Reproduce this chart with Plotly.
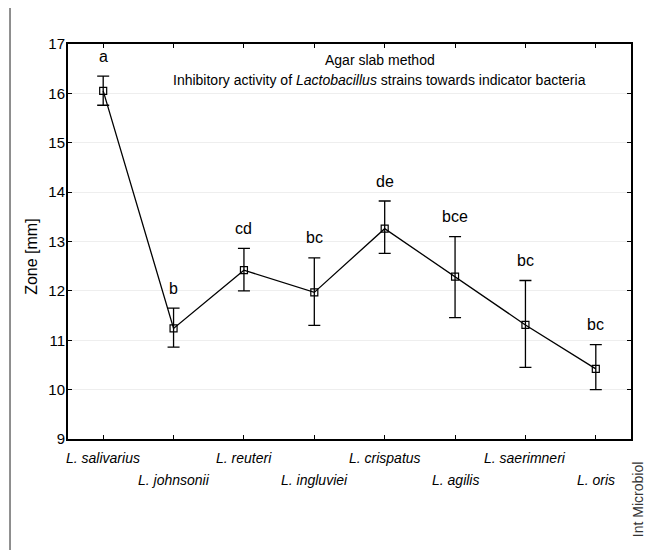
import plotly.graph_objects as go

strains = ["L. salivarius", "L. johnsonii", "L. reuteri", "L. ingluviei",
           "L. crispatus", "L. agilis", "L. saerimneri", "L. oris"]
means = [16.05, 11.24, 12.42, 11.97, 13.26, 12.29, 11.31, 10.42]
upper = [16.35, 11.65, 12.86, 12.67, 13.82, 13.10, 12.21, 10.91]
lower = [15.76, 10.86, 12.00, 11.30, 12.76, 11.46, 10.45, 10.00]
letters = ["a", "b", "cd", "bc", "de", "bce", "bc", "bc"]
yticks = [9, 10, 11, 12, 13, 14, 15, 16, 17]

FONT = "Liberation Sans, Arial, sans-serif"

x_idx = list(range(len(strains)))
err_plus = [u - m for u, m in zip(upper, means)]
err_minus = [m - l for m, l in zip(means, lower)]

fig = go.Figure()
fig.add_trace(go.Scatter(
    x=x_idx, y=means, mode="lines+markers",
    line=dict(color="black", width=1.3),
    marker=dict(symbol="square-open", size=7, color="black", line=dict(width=1.2)),
    error_y=dict(type="data", symmetric=False, array=err_plus, arrayminus=err_minus,
                 color="black", thickness=1.3, width=6),
    showlegend=False, hoverinfo="skip",
))

annotations = []
# significance letters
for i, (u, t) in enumerate(zip(upper, letters)):
    annotations.append(dict(x=i, y=u, xref="x", yref="y", text=t, showarrow=False,
                            yshift=20, font=dict(family=FONT, size=16, color="black")))

# staggered category labels
for i, s in enumerate(strains):
    annotations.append(dict(x=i, y=(-0.048 if i % 2 == 0 else -0.104), xref="x", yref="paper",
                            text="<i>" + s + "</i>", showarrow=False,
                            xanchor="center", yanchor="middle",
                            font=dict(family=FONT, size=14, color="black")))

# title lines
annotations.append(dict(x=0.554, y=0.9595, xref="paper", yref="paper", xanchor="center",
                        yanchor="middle", text="Agar slab method", showarrow=False,
                        font=dict(family=FONT, size=14, color="black")))
annotations.append(dict(x=0.554, y=0.909, xref="paper", yref="paper", xanchor="center",
                        yanchor="middle",
                        text="Inhibitory activity of <i>Lactobacillus</i> strains towards indicator bacteria",
                        showarrow=False, font=dict(family=FONT, size=14, color="black")))

# y-axis title
annotations.append(dict(x=-0.064, y=0.461, xref="paper", yref="paper", xanchor="center",
                        yanchor="middle", text="Zone [mm]", textangle=-90, showarrow=False,
                        font=dict(family=FONT, size=16, color="black")))

# source
annotations.append(dict(x=1.013, y=-0.154, xref="paper", yref="paper", xanchor="center",
                        yanchor="middle", text="Int Microbiol", textangle=-90, showarrow=False,
                        font=dict(family=FONT, size=14, color="#333333")))

shapes = [
    dict(type="line", xref="paper", yref="paper", x0=-0.103, x1=1.06, y0=1.094, y1=1.094,
         line=dict(color="#444444", width=1.2)),
    dict(type="line", xref="paper", yref="paper", x0=-0.103, x1=-0.103, y0=1.094, y1=-0.3,
         line=dict(color="#444444", width=1.2)),
]

fig.update_layout(
    width=645, height=542,
    margin=dict(l=60, r=22, t=36, b=111, autoexpand=False),
    paper_bgcolor="white", plot_bgcolor="white",
    font=dict(family=FONT, size=14, color="black"),
    annotations=annotations, shapes=shapes,
    xaxis=dict(range=[-0.5, 7.5], tickmode="array", tickvals=x_idx, showticklabels=False,
               showline=True, linecolor="black", linewidth=2, mirror="ticks",
               ticks="inside", ticklen=4, tickcolor="black", showgrid=False,
               zeroline=False, automargin=False),
    yaxis=dict(range=[9, 17], tickmode="array", tickvals=yticks,
               showline=True, linecolor="black", linewidth=2, mirror="ticks",
               ticks="inside", ticklen=4, tickcolor="black", showgrid=True,
               gridcolor="#eeeeee", gridwidth=1, zeroline=False, automargin=False,
               ticklabelstandoff=-2,
               tickfont=dict(family=FONT, size=15, color="black")),
)

fig.write_html("out.html")
